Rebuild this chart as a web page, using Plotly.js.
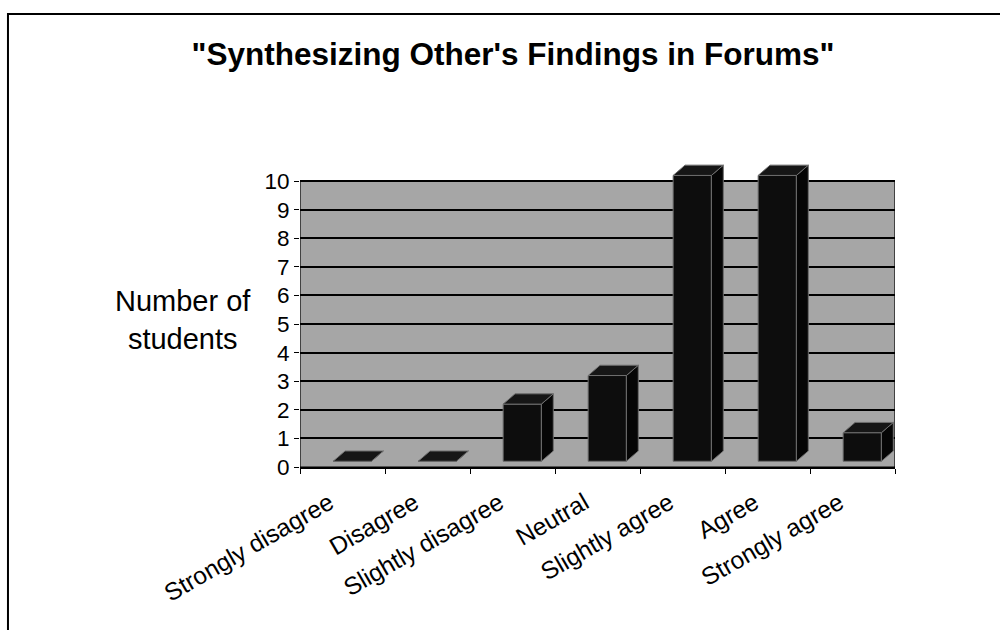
<!DOCTYPE html>
<html>
<head>
<meta charset="utf-8">
<script src="https://cdn.plot.ly/plotly-3.0.1.min.js"></script>
<style>html,body{margin:0;padding:0;background:#fff;}#chart{width:1000px;height:630px;}</style>
</head>
<body>
<div id="chart"></div>
<script>
// ---- data ----
const categories = ["Strongly disagree", "Disagree", "Slightly disagree", "Neutral", "Slightly agree", "Agree", "Strongly agree"];
const values = [0, 0, 2, 3, 10, 10, 1];
const yTicks = [0, 1, 2, 3, 4, 5, 6, 7, 8, 9, 10];
const chartTitle = '"Synthesizing Other\'s Findings in Forums"';
const yTitle = "Number of<br>students";

// ---- 3D-look geometry (style constants) ----
const base = 0.2, off = -0.11, w = 0.45, dx = 0.14, dy = 0.36;
const idx = categories.map((_, i) => i);

const topX = [], topY = [], sideX = [], sideY = [];
idx.forEach((i) => {
  const v = values[i] + base;
  const l = i + off, r = i + off + w;
  topX.push(l, r, r + dx, l + dx, l, null);
  topY.push(v, v, v + dy, v + dy, v, null);
  sideX.push(r, r, r + dx, r + dx, r, null);
  sideY.push(base, v, v + dy, base + dy, base, null);
});

const FONT = "'Liberation Sans', Arial, sans-serif";

const traces = [
  {
    type: "bar", x: idx, y: values, base: base, width: w, offset: off,
    marker: { color: "#0d0d0d", line: { color: "#6e6e6e", width: 1 } },
    hoverinfo: "skip", showlegend: false
  },
  {
    type: "scatter", mode: "lines", x: sideX, y: sideY, fill: "toself",
    fillcolor: "#050505", line: { color: "#6e6e6e", width: 1 },
    hoverinfo: "skip", showlegend: false
  },
  {
    type: "scatter", mode: "lines", x: topX, y: topY, fill: "toself",
    fillcolor: "#161616", line: { color: "#6e6e6e", width: 1 },
    hoverinfo: "skip", showlegend: false
  },
  { type: "scatter", x: [0], y: [0], xaxis: "x2", mode: "markers",
    marker: { opacity: 0 }, hoverinfo: "skip", showlegend: false }
];

const layout = {
  width: 1000, height: 630,
  margin: { l: 300, r: 105, t: 164, b: 163 },
  paper_bgcolor: "#ffffff", plot_bgcolor: "#ffffff",
  font: { family: FONT, color: "#000" },
  showlegend: false,
  title: {
    text: "<b>" + chartTitle + "</b>",
    font: { family: FONT, size: 31.5, color: "#000" },
    x: 0.513, xanchor: "center", y: 0.915, yanchor: "middle"
  },
  xaxis: {
    type: "linear", range: [-0.5, 6.5], tickvals: idx, ticktext: categories,
    tickangle: -30, ticks: "", showgrid: false, zeroline: false, showline: false,
    tickfont: { family: FONT, size: 24.5, color: "#000" },
    ticklabelshift: -13, ticklabelstandoff: 16, fixedrange: true
  },
  xaxis2: {
    overlaying: "x", matches: "x", anchor: "y", range: [-0.5, 6.5],
    tickvals: idx.concat([idx.length]).map((i) => i - 0.5),
    showticklabels: false, ticks: "outside", ticklen: 5, tickcolor: "#000", tickwidth: 1,
    showgrid: false, zeroline: false, showline: true, linecolor: "#000", linewidth: 1.5
  },
  yaxis: {
    range: [0, 10.6], tickvals: yTicks, ticktext: yTicks.map(String),
    ticks: "outside", ticklen: 5, tickcolor: "#000", tickwidth: 1,
    showgrid: true, gridcolor: "#000", gridwidth: 2, zeroline: false, showline: false,
    tickfont: { family: FONT, size: 22.5, color: "#000" }, fixedrange: true
  },
  shapes: [
    { type: "rect", xref: "x", yref: "y", x0: -0.5, x1: 6.5, y0: 0, y1: 10,
      fillcolor: "#a6a6a6", line: { color: "#000", width: 1.2 }, layer: "below" },
    { type: "rect", xref: "paper", yref: "paper", x0: -0.4908, x1: 1.2, y0: -0.6, y1: 1.495,
      fillcolor: "rgba(0,0,0,0)", line: { color: "#000", width: 2 } }
  ],
  annotations: [
    { xref: "paper", yref: "paper", x: -0.197, y: 0.485, xanchor: "center", yanchor: "middle",
      text: yTitle, showarrow: false, align: "center",
      font: { family: FONT, size: 29, color: "#000" } }
  ]
};

Plotly.newPlot("chart", traces, layout, { staticPlot: true, displayModeBar: false });
</script>
</body>
</html>
